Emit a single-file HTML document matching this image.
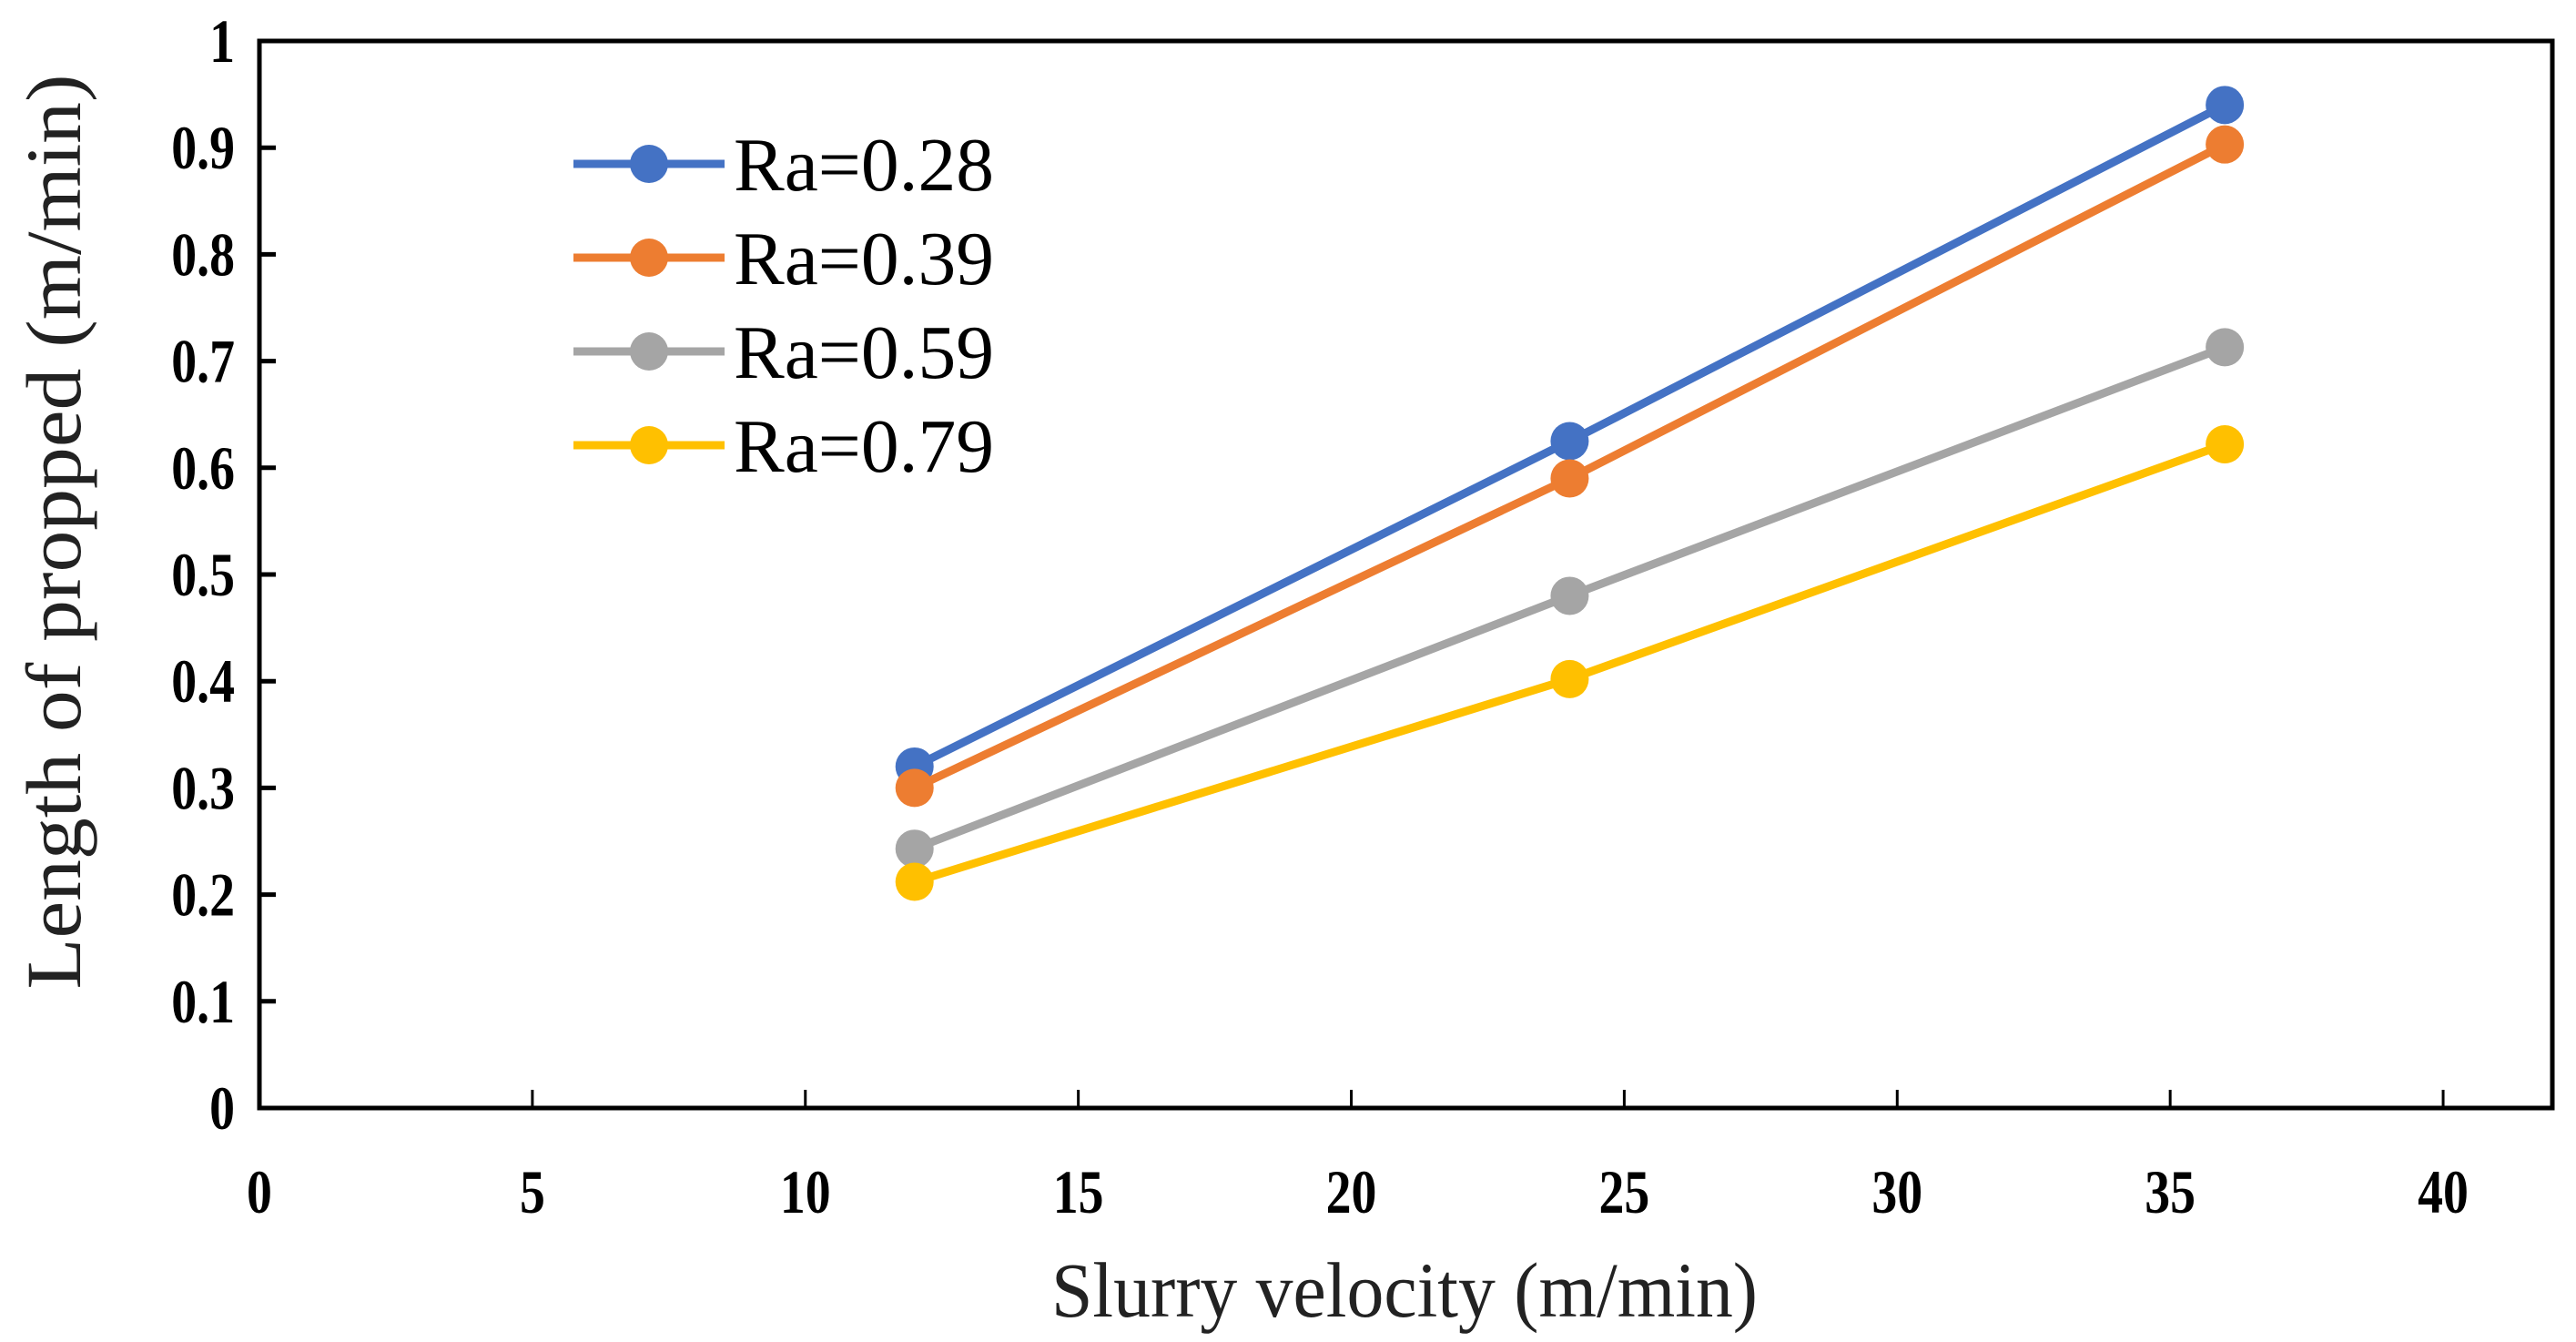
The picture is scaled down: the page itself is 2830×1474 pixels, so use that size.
<!DOCTYPE html>
<html><head><meta charset="utf-8"><style>
html,body{margin:0;padding:0;background:#fff;}
svg{display:block;}
</style></head><body>
<svg id="chart" width="2830" height="1474" viewBox="0 0 2830 1474" xmlns="http://www.w3.org/2000/svg">
<rect x="0" y="0" width="2830" height="1474" fill="#fff"/>
<g id="axes"></g>
<g id="series"></g>
<g id="legend"></g>
<text transform="translate(88,584) rotate(-90)" text-anchor="middle" font-family="Liberation Serif, serif" font-size="86" textLength="1005" lengthAdjust="spacingAndGlyphs" fill="#222">Length of propped (m/min)</text>
<text x="1543" y="1446" text-anchor="middle" font-family="Liberation Serif, serif" font-size="86" textLength="776" lengthAdjust="spacingAndGlyphs" fill="#222">Slurry velocity (m/min)</text>
</svg>
<script>
const categories = [12, 24, 36];
const seriesNames = ["Ra=0.28", "Ra=0.39", "Ra=0.59", "Ra=0.79"];
const ra028 = [0.32, 0.625, 0.94];
const ra039 = [0.30, 0.59, 0.903];
const ra059 = [0.243, 0.48, 0.713];
const ra079 = [0.212, 0.402, 0.622];
const xTicks = [0, 5, 10, 15, 20, 25, 30, 35, 40];
const yTicks = [0, 0.1, 0.2, 0.3, 0.4, 0.5, 0.6, 0.7, 0.8, 0.9, 1];
const yTickLabels = ["0", "0.1", "0.2", "0.3", "0.4", "0.5", "0.6", "0.7", "0.8", "0.9", "1"];

const colors = ["#4472C4", "#ED7D31", "#A5A5A5", "#FFC000"];
const allSeries = [ra028, ra039, ra059, ra079];
const L = 285, R = 2804, T = 45, B = 1217;
const xMax = 42;
const x = v => L + (v / xMax) * (R - L);
const y = v => B - v * (B - T);
const NS = "http://www.w3.org/2000/svg";
function mk(tag, attrs, parent) {
  const e = document.createElementNS(NS, tag);
  for (const k in attrs) e.setAttribute(k, attrs[k]);
  parent.appendChild(e);
  return e;
}
const axes = document.getElementById('axes');
const frame = mk('rect', {x: L, y: T, width: R - L, height: B - T, fill: 'none', stroke: '#000', 'stroke-width': 5}, axes);


xTicks.forEach(t => {
  const tk = mk('line', {x1: x(t), x2: x(t), y1: B, y2: B - 20, stroke: '#000', 'stroke-width': 3}, axes);
  
  
  const lb = mk('text', {transform: 'translate(' + x(t) + ',1332) scale(0.82,1)', 'text-anchor': 'middle', 'font-family': 'Liberation Serif, serif', 'font-weight': 'bold', 'font-size': 68, fill: '#000'}, axes);
  lb.textContent = t;
  
  
});
yTicks.forEach((t, i) => {
  const tk = mk('line', {x1: L, x2: L + 18, y1: y(t), y2: y(t), stroke: '#000', 'stroke-width': 5}, axes);
  
  
  const lb = mk('text', {transform: 'translate(258,' + (y(t) + 23) + ') scale(0.82,1)', 'text-anchor': 'end', 'font-family': 'Liberation Serif, serif', 'font-weight': 'bold', 'font-size': 68, fill: '#000'}, axes);
  lb.textContent = yTickLabels[i];
  
  
});
const sg = document.getElementById('series');
allSeries.forEach((vals, si) => {
  const g = mk('g', {}, sg);
  
  
  const pts = vals.map((v, i) => x(categories[i]) + ',' + y(v)).join(' ');
  const pl = mk('polyline', {points: pts, fill: 'none', stroke: colors[si], 'stroke-width': 9}, g);
  
  
  vals.forEach((v, i) => {
    const c = mk('circle', {cx: x(categories[i]), cy: y(v), r: 21, fill: colors[si]}, g);
    
    
  });
});
const lg = document.getElementById('legend');


const legY = [180, 283, 386, 489];
seriesNames.forEach((n, i) => {
  const g = mk('g', {}, lg);
  
  
  mk('line', {x1: 630, x2: 796, y1: legY[i], y2: legY[i], stroke: colors[i], 'stroke-width': 9}, g);
  mk('circle', {cx: 713, cy: legY[i], r: 21, fill: colors[i]}, g);
  const t = mk('text', {x: 806, y: legY[i] + 29, 'font-family': 'Liberation Serif, serif', 'font-size': 84, textLength: 286, lengthAdjust: 'spacingAndGlyphs', fill: '#000'}, g);
  t.textContent = n;
});
</script>
</body></html>
